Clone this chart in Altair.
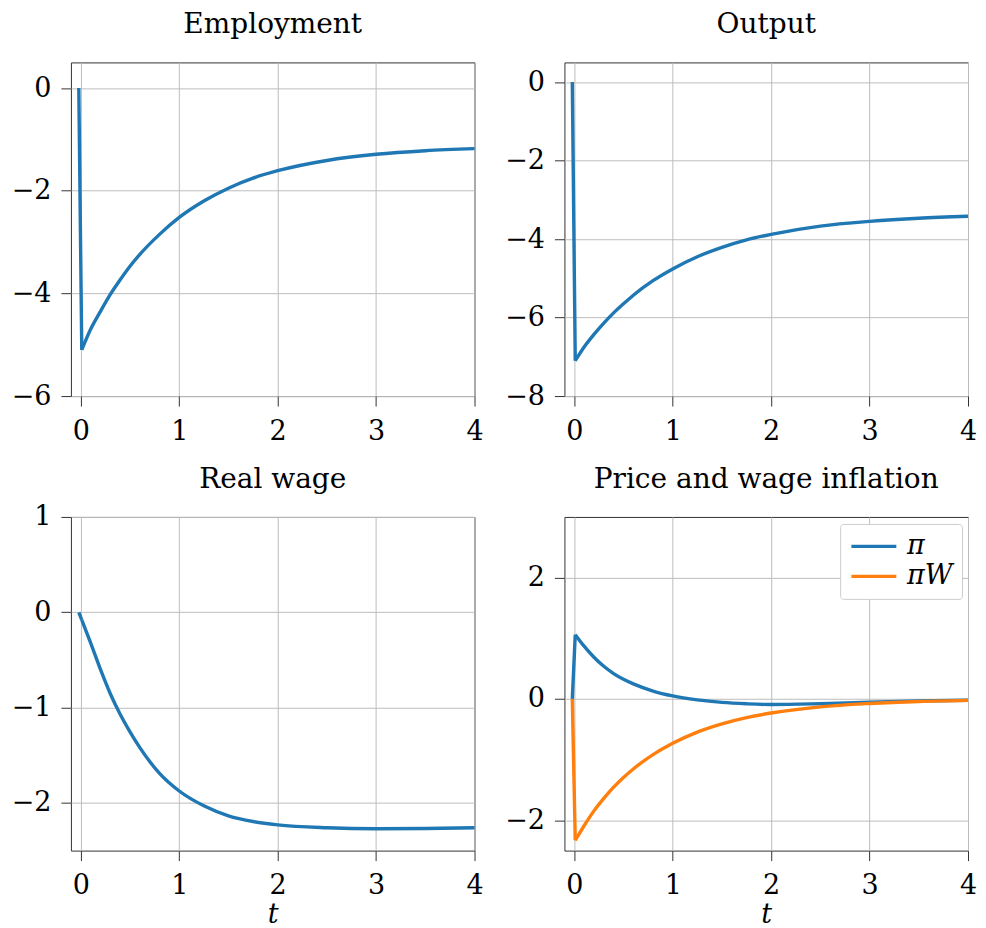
import altair as alt
import pandas as pd

# time grid (years)
t = [-0.02, 0.01, 0.1, 0.2, 0.3, 0.4, 0.5, 0.6, 0.8, 1.0, 1.25, 1.5, 1.75, 2.0, 2.5, 3.0, 3.5, 4.0]

employment = [0, -5.1, -4.70, -4.35, -4.02, -3.735, -3.47, -3.24, -2.85, -2.52, -2.20, -1.95, -1.755, -1.61, -1.41, -1.29, -1.22, -1.18]
output = [0, -7.1, -6.75, -6.43, -6.14, -5.88, -5.65, -5.43, -5.06, -4.76, -4.45, -4.21, -4.02, -3.88, -3.67, -3.55, -3.47, -3.42]
real_wage = [0, -0.08, -0.32, -0.60, -0.855, -1.07, -1.255, -1.42, -1.69, -1.875, -2.03, -2.135, -2.195, -2.23, -2.26, -2.27, -2.268, -2.26]
pi = [0, 1.06, 0.87, 0.688, 0.538, 0.418, 0.323, 0.248, 0.13, 0.05, -0.015, -0.057, -0.08, -0.092, -0.078, -0.055, -0.035, -0.02]
pi_w = [0, -2.33, -2.09, -1.845, -1.64, -1.455, -1.294, -1.154, -0.917, -0.73, -0.546, -0.41, -0.307, -0.232, -0.13, -0.075, -0.041, -0.023]

series_names = ["π", "πW"]
colors = ["#1f77b4", "#ff7f0e"]
x_ticks = [0, 1, 2, 3, 4]

FONT = "DejaVu Serif"
FS = 27
W, H = 404, 334
LW = 3.4


def make_df(series):
    rows = []
    for name, vals in series:
        for tt, v in zip(t, vals):
            rows.append({"t": tt, "value": v, "series": name})
    return pd.DataFrame(rows)


def panel(series, title, ydomain, yticks, xtitle=None, legend=False, title_offset=23):
    df = make_df(series)
    x = alt.X("t:Q",
              scale=alt.Scale(domain=[-0.1, 4], nice=False, zero=False),
              axis=alt.Axis(values=x_ticks, format="d", labelFlush=False,
                            labelPadding=12, titleFontStyle="italic",
                            titlePadding=3),
              title=xtitle)
    y = alt.Y("value:Q",
              scale=alt.Scale(domain=ydomain, nice=False, zero=False),
              axis=alt.Axis(values=yticks, format="d", labelPadding=10),
              title=None)
    if legend:
        color = alt.Color("series:N",
                          scale=alt.Scale(domain=series_names, range=colors),
                          legend=alt.Legend(orient="none", legendX=276, legendY=7,
                                            title=None, symbolType="M-1,0H3",
                                            symbolSize=506, symbolStrokeWidth=LW,
                                            symbolFillColor="transparent",
                                            labelFont=FONT, labelFontSize=FS,
                                            labelFontStyle="italic", labelOffset=31,
                                            strokeColor="#cccccc", fillColor="white",
                                            padding=9, cornerRadius=3, rowPadding=2))
    else:
        color = alt.value(colors[0])
    base = alt.Chart(df)
    jump = base.mark_line(strokeWidth=LW, interpolate="linear").encode(
        x=x, y=y, color=color, detail="series:N"
    ).transform_filter("datum.t <= 0.011")
    curve = base.mark_line(strokeWidth=LW, interpolate="monotone").encode(
        x=x, y=y, color=color, detail="series:N"
    ).transform_filter("datum.t >= 0.009")
    return alt.layer(jump, curve).properties(
        width=W, height=H,
        title=alt.TitleParams(title, fontSize=28, font=FONT, fontWeight="normal",
                              color="black", offset=title_offset)
    )


p1 = panel([("E", employment)], "Employment", [-6, 0.5], [0, -2, -4, -6])
p2 = panel([("Y", output)], "Output", [-8, 0.5], [0, -2, -4, -6, -8])
p3 = panel([("w", real_wage)], "Real wage", [-2.5, 1], [1, 0, -1, -2], xtitle="t",
           title_offset=9)
p4 = panel([("π", pi), ("πW", pi_w)], "Price and wage inflation", [-2.5, 3], [2, 0, -2],
           xtitle="t", legend=True)

chart = alt.concat(
    p1, p2, p3, p4, columns=2,
    spacing=alt.RowColnumber(row=121, column=90), bounds="flush"
).resolve_scale(
    color="independent"
).resolve_legend(color="independent").properties(
    padding={"left": 2, "top": 2, "right": 0, "bottom": 2}
).configure_view(
    stroke="#333333", strokeWidth=1
).configure_axis(
    domain=False, grid=True, gridColor="#bdbdbd", gridWidth=1,
    tickColor="#333333", tickSize=10, tickWidth=1,
    labelFont=FONT, labelFontSize=FS, labelColor="black",
    titleFont=FONT, titleFontSize=FS, titleColor="black", titleFontWeight="normal"
)

chart.save("out.html", embed_options={"renderer": "svg", "actions": False})
